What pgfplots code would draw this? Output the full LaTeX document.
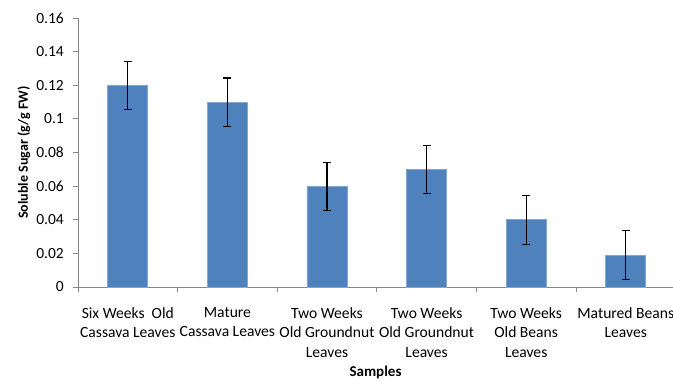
\documentclass[border=0pt]{standalone}
\usepackage{pgfplots}
\pgfplotsset{compat=1.18}
\usepackage{fontspec}
\setmainfont{Carlito}
\definecolor{barblue}{HTML}{4F81BD}
\definecolor{axgray}{HTML}{868686}
\begin{document}
\fontsize{15bp}{20bp}\selectfont
\begin{tikzpicture}
\path[use as bounding box] (-78bp,-93bp) rectangle (595bp,287bp);
\begin{axis}[
  at={(0,0)}, anchor=south west,
  scale only axis,
  width=595bp, height=269bp,
  xmin=-0.5, xmax=5.474,
  ymin=0, ymax=0.16,
  axis x line=bottom, axis y line=left,
  axis line style={-, draw=axgray, line width=0.8pt},
  tick align=outside,
  major tick length=5bp,
  tick style={draw=axgray, line width=0.8pt},
  ytick={0,0.02,0.04,0.06,0.08,0.1,0.12,0.14,0.16},
  yticklabels={0,0.02,0.04,0.06,0.08,0.1,0.12,0.14,0.16},
  yticklabel style={font=\fontsize{15.5bp}{18bp}\selectfont, inner sep=0pt, xshift=-9bp},
  xtick={-0.5,0.5,1.5,2.5,3.5,4.5},
  xticklabels={{Six Weeks\ \ Old\\Cassava Leaves},{Mature\\Cassava Leaves},{Two Weeks\\Old Groundnut\\Leaves},{Two Weeks\\Old Groundnut\\Leaves},{Two Weeks\\Old Beans\\Leaves},{Matured Beans\\Leaves}},
  xticklabel style={align=center, anchor=north, inner sep=0pt, xshift=49.8bp, yshift=-15bp, font=\fontsize{15.6bp}{19.5bp}\selectfont},
  ylabel={\textbf{Soluble Sugar (g/g FW)}},
  ylabel style={at={(axis description cs:-0.0908,0.5)}, anchor=center, font=\fontsize{14bp}{16bp}\selectfont},
  xlabel={\textbf{Samples}},
  xlabel style={at={(axis description cs:0.5,-0.318)}, anchor=center, font=\fontsize{15bp}{18bp}\selectfont},
  clip=false,
]
\addplot[ybar, bar width=40bp, fill=barblue, draw=barblue!70!white, line width=0.6pt,
  error bars/.cd, y dir=both, y explicit,
  error bar style={black, line width=1.1pt},
  error mark options={black, line width=1.1pt, mark size=4bp, rotate=90}]
  coordinates {
  (0,0.120) +- (0,0.0143)
  (1,0.110) +- (0,0.0143)
  (2,0.060) +- (0,0.0143)
  (3,0.070) +- (0,0.0143)
  (4,0.040) +- (0,0.0145)
  (5,0.019) +- (0,0.0145)
  };
\end{axis}
\end{tikzpicture}
\end{document}
